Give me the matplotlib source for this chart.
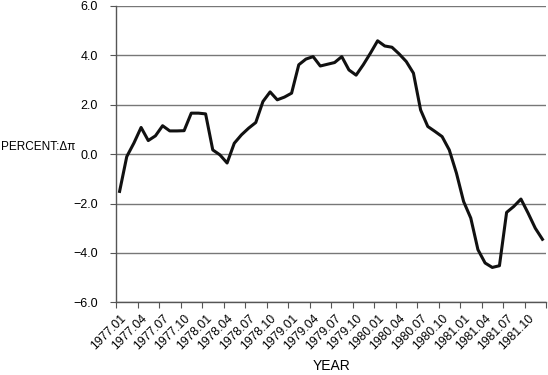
import matplotlib
matplotlib.use("Agg")
import matplotlib.pyplot as plt
import numpy as np

plt.rcParams['font.family'] = ['Liberation Sans', 'DejaVu Sans']

# monthly change in inflation, 1977.01 - 1981.12
values = [
    -1.51, -0.10, 0.45, 1.08, 0.55, 0.74, 1.15, 0.94, 0.94, 0.95, 1.66, 1.66,
    1.63, 0.17, -0.03, -0.36, 0.44, 0.78, 1.05, 1.28, 2.13, 2.52, 2.20, 2.31,
    2.47, 3.62, 3.85, 3.95, 3.57, 3.64, 3.71, 3.95, 3.41, 3.20, 3.62, 4.09,
    4.59, 4.38, 4.33, 4.06, 3.75, 3.28, 1.79, 1.12, 0.92, 0.71, 0.17, -0.77,
    -1.92, -2.59, -3.87, -4.41, -4.59, -4.52, -2.36, -2.12, -1.82, -2.39, -3.00, -3.45,
]
tick_labels = ["1977.01", "1977.04", "1977.07", "1977.10", "1978.01", "1978.04",
               "1978.07", "1978.10", "1979.01", "1979.04", "1979.07", "1979.10",
               "1980.01", "1980.04", "1980.07", "1980.10", "1981.01", "1981.04",
               "1981.07", "1981.10"]
y_ticks = [-6, -4, -2, 0, 2, 4, 6]

fig = plt.figure(figsize=(5.48, 3.75), dpi=100)
ax = fig.add_axes([0.2117, 0.194, 0.7847, 0.790])

x = np.arange(len(values)) + 0.5
ax.plot(x, values, color='#111111', linewidth=2.2, solid_joinstyle='round', zorder=3)

ax.set_xlim(0, len(values))
ax.set_ylim(-6, 6)

# tick marks between months, labels at category centres
ax.set_xticks(np.arange(0, len(values) + 1, 3))
ax.set_xticklabels([])
ax.set_xticks(np.arange(len(tick_labels)) * 3 + 0.5, minor=True)
ax.set_xticklabels(tick_labels, minor=True, rotation=45, ha='right',
                   rotation_mode='anchor', fontsize=8.8)
ax.tick_params(axis='x', which='minor', length=0, pad=7)
ax.tick_params(axis='x', which='major', length=4, color='#555555', direction='out')

ax.set_yticks(y_ticks)
ax.set_yticklabels([f"{v:.1f}".replace('-', '\u2212') for v in y_ticks], fontsize=9)
ax.tick_params(axis='y', length=4, color='#555555', pad=9)

ax.grid(axis='y', color='#777777', linewidth=1.0)
ax.set_axisbelow(True)
for side in ['top', 'right']:
    ax.spines[side].set_visible(False)
for side in ['left', 'bottom']:
    ax.spines[side].set_color('#555555')
    ax.spines[side].set_linewidth(1.0)

fig.text(0.002, 0.609, "PERCENT:\u0394\u03c0", fontsize=8.5, va='center', ha='left')
fig.text(0.605, 0.024, "YEAR", fontsize=10, ha='center', va='center')

fig.savefig("out.png", dpi=100)
